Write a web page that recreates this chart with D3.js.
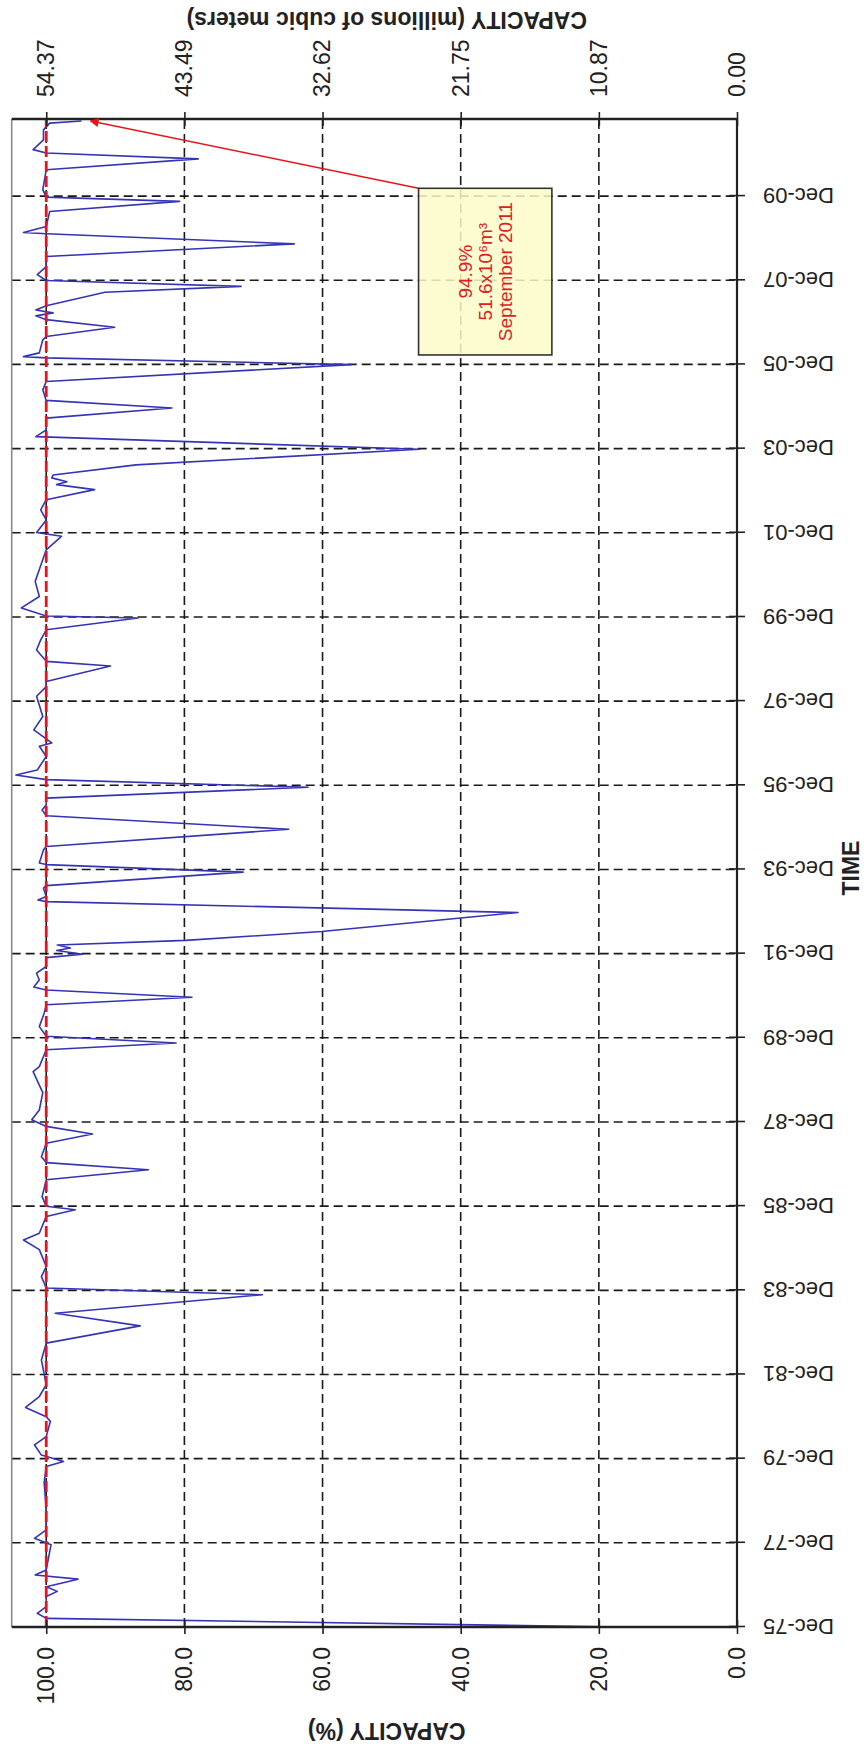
<!DOCTYPE html>
<html>
<head>
<meta charset="utf-8">
<script src="https://cdn.jsdelivr.net/npm/d3@7"></script>
<style>
  html, body { margin: 0; padding: 0; background: #fff; }
  svg { display: block; }
  text { font-family: Arial, "Liberation Sans", sans-serif; }
</style>
</head>
<body>
<svg id="chart" width="865" height="1750"></svg>
<script>
// ---------------- DATA ----------------
// decimal years (time) and reservoir capacity (%)
const years = [
  1975.92, 1976.12, 1976.24, 1976.40, 1976.64, 1976.76, 1976.87, 1977.05, 1977.15, 1977.27,
  1977.87, 1978.02, 1978.22, 1978.70, 1979.34, 1979.73, 1979.85, 1980.00, 1980.24, 1980.44,
  1980.80, 1980.91, 1981.13, 1981.39, 1981.67, 1982.26, 1982.66, 1983.07, 1983.37, 1983.81,
  1983.97, 1984.24, 1984.48, 1984.88, 1985.11, 1985.27, 1985.67, 1985.83, 1985.91, 1986.14,
  1986.54, 1986.78, 1986.95, 1987.09, 1987.41, 1987.63, 1987.81, 1987.97, 1988.20, 1988.61,
  1989.11, 1989.23, 1989.63, 1989.79, 1989.95, 1990.18, 1990.50, 1990.70, 1990.88, 1991.05,
  1991.12, 1991.29, 1991.45, 1991.61, 1991.82, 1991.90, 1991.99, 1992.05, 1992.12, 1992.23,
  1992.44, 1992.76, 1992.89, 1993.15, 1993.19, 1993.27, 1993.47, 1993.53, 1993.85, 1994.03,
  1994.07, 1994.38, 1994.46, 1994.87, 1995.19, 1995.33, 1995.45, 1995.61, 1995.87, 1996.05,
  1996.16, 1996.28, 1996.60, 1996.84, 1996.92, 1997.23, 1997.55, 1998.03, 1998.26, 1998.38,
  1998.75, 1998.86, 1999.13, 1999.37, 1999.61, 1999.89, 1999.94, 2000.13, 2000.40, 2000.76,
  2001.04, 2001.51, 2001.83, 2001.92, 2002.22, 2002.46, 2002.70, 2002.94, 2003.06, 2003.13,
  2003.22, 2003.29, 2003.53, 2003.90, 2004.20, 2004.36, 2004.64, 2004.88, 2005.06, 2005.31,
  2005.51, 2005.91, 2006.07, 2006.10, 2006.19, 2006.50, 2006.58, 2006.80, 2006.98, 2007.07,
  2007.14, 2007.21, 2007.31, 2007.63, 2007.77, 2007.91, 2008.05, 2008.24, 2008.48, 2008.78,
  2009.02, 2009.05, 2009.19, 2009.55, 2009.79, 2009.89, 2010.07, 2010.54, 2010.80, 2010.94,
  2011.02, 2011.25, 2011.49, 2011.65, 2011.70
];
const capacity = [
  19.5, 100, 101.3, 100, 100, 98.4, 100, 95.4, 101.6, 100,
  99.3, 101.7, 100, 100, 100.3, 100, 97.5, 100.7, 101.7, 100,
  99.4, 100, 103.0, 101, 100, 100.7, 100, 86.4, 98.7, 68.7,
  100, 100.7, 100, 101, 103.3, 101, 100, 95.8, 100, 100.6,
  100, 85.2, 100, 100.7, 100, 93.3, 100, 102.1, 101, 100.5,
  101.9, 101, 100, 81.2, 100, 101, 100.3, 100, 78.9, 100,
  101.8, 101, 101.4, 100, 100, 94.7, 98.5, 96.5, 98.4, 79.8,
  60.1, 40.0, 31.7, 100, 101.2, 100, 100.4, 100, 71.5, 100,
  101, 100.4, 100, 64.9, 100, 100.6, 100, 100, 62.1, 100,
  104.4, 101.3, 100, 101, 99.2, 101.8, 100.5, 101.4, 100, 100,
  90.7, 100, 101.4, 100.8, 100, 86.7, 100, 103.6, 101, 101.6,
  101, 100, 97.8, 101.4, 100, 100.8, 100, 93.0, 98.5, 97,
  99.2, 99, 87, 46.0, 101.5, 100, 100, 81.8, 100, 100.5,
  100, 55.8, 100, 103.3, 101, 100.5, 100, 90.1, 100, 101.5,
  99, 101.5, 100, 91.5, 71.8, 100, 101.3, 100, 100, 64.1,
  100, 103.3, 100, 99.5, 80.7, 100, 100.5, 100, 78.0, 100,
  101.9, 100.4, 100.4, 99.5, 94.9
];

// axis ticks
const capTicks = [0, 20, 40, 60, 80, 100];
const capTickLabels = ["0.0", "20.0", "40.0", "60.0", "80.0", "100.0"];
const volTickLabels = ["0.00", "10.87", "21.75", "32.62", "43.49", "54.37"];
const fullVolume = 54.37;           // millions m3 at 100 %
const timeTickYears = [1975, 1977, 1979, 1981, 1983, 1985, 1987, 1989, 1991, 1993,
                       1995, 1997, 1999, 2001, 2003, 2005, 2007, 2009];
const timeTickLabels = ["Dec-75", "Dec-77", "Dec-79", "Dec-81", "Dec-83", "Dec-85", "Dec-87",
                        "Dec-89", "Dec-91", "Dec-93", "Dec-95", "Dec-97", "Dec-99", "Dec-01",
                        "Dec-03", "Dec-05", "Dec-07", "Dec-09"];

// annotation
const annLines = ["94.9%", "51.6x10\u2076m\u00B3", "September 2011"];
const annBox = { t0: 2006.14, t1: 2010.10, v0: 26.8, v1: 46.1 };
const annTarget = { t: 2011.70, v: 94.9 };

// ---------------- CHART ----------------
function toDate(y) {
  const yr = Math.floor(y);
  const s = new Date(yr, 0, 1).getTime(), e = new Date(yr + 1, 0, 1).getTime();
  return new Date(s + (y - yr) * (e - s));
}

const W = 1508, H = 725.3;   // plot size in the un-rotated frame
const svg = d3.select("#chart");
svg.append("rect").attr("width", 865).attr("height", 1750).attr("fill", "#fff");

// whole chart drawn in normal orientation, then rotated 90° counter-clockwise
const g = svg.append("g").attr("transform", "translate(11.7,1627) rotate(-90)");

const x = d3.scaleTime().domain([new Date(1975, 11, 1), new Date(2011, 9, 1)]).range([0, W]);
const y = d3.scaleLinear().domain([0, 105]).range([H, 0]);
const yVol = d3.scaleLinear().domain([0, 105 * fullVolume / 100]).range([H, 0]);

const timeTicks = timeTickYears.map(yr => new Date(yr, 11, 1));
const dash = "9,5";

// gridlines
g.append("g").selectAll("line").data(capTicks.filter(v => v > 0)).join("line")
  .attr("x1", 0).attr("x2", W).attr("y1", d => y(d)).attr("y2", d => y(d))
  .attr("stroke", "#1a1a1a").attr("stroke-width", 1.6).attr("stroke-dasharray", dash);
g.append("g").selectAll("line").data(timeTicks.slice(1)).join("line")
  .attr("x1", d => x(d)).attr("x2", d => x(d)).attr("y1", 0).attr("y2", H)
  .attr("stroke", "#1a1a1a").attr("stroke-width", 1.6).attr("stroke-dasharray", dash);

// data line
const series = years.map((t, i) => ({ date: toDate(t), v: capacity[i] }));
g.append("path").datum(series)
  .attr("fill", "none").attr("stroke", "#3434b4").attr("stroke-width", 1.6)
  .attr("stroke-linejoin", "round")
  .attr("d", d3.line().x(d => x(d.date)).y(d => y(d.v)));

// red 100 % line
g.append("line").attr("x1", 0).attr("x2", W).attr("y1", y(100)).attr("y2", y(100))
  .attr("stroke", "#e8141c").attr("stroke-width", 2.8).attr("stroke-dasharray", "11,4");

// frame
g.append("line").attr("x1", 0).attr("x2", W).attr("y1", 0).attr("y2", 0)
  .attr("stroke", "#8a8a8a").attr("stroke-width", 1.6);
g.append("line").attr("x1", 0).attr("x2", W).attr("y1", H).attr("y2", H)
  .attr("stroke", "#222").attr("stroke-width", 2.2);
g.append("line").attr("x1", 0).attr("x2", 0).attr("y1", 0).attr("y2", H)
  .attr("stroke", "#222").attr("stroke-width", 2.6);
g.append("line").attr("x1", W).attr("x2", W).attr("y1", 0).attr("y2", H)
  .attr("stroke", "#222").attr("stroke-width", 2.6);

// left axis (%)
const axL = g.append("g")
  .call(d3.axisLeft(y).tickValues(capTicks).tickFormat((d, i) => capTickLabels[i])
    .tickSizeInner(7).tickSizeOuter(0).tickPadding(13));
axL.select(".domain").remove();
axL.selectAll(".tick line").attr("x1", 7).attr("x2", -7).attr("stroke", "#222").attr("stroke-width", 1.6);
axL.selectAll(".tick text").attr("font-size", 23).attr("fill", "#222");

// right axis (millions m3)
const volTicks = capTicks.map(v => v * fullVolume / 100);
const axR = g.append("g").attr("transform", `translate(${W},0)`)
  .call(d3.axisRight(yVol).tickValues(volTicks).tickFormat((d, i) => volTickLabels[i])
    .tickSizeInner(7).tickSizeOuter(0).tickPadding(15));
axR.select(".domain").remove();
axR.selectAll(".tick line").attr("x1", -7).attr("x2", 7).attr("stroke", "#222").attr("stroke-width", 1.6);
axR.selectAll(".tick text").attr("font-size", 23).attr("fill", "#222");

// bottom axis (time)
const axB = g.append("g").attr("transform", `translate(0,${H})`)
  .call(d3.axisBottom(x).tickValues(timeTicks).tickFormat((d, i) => timeTickLabels[i])
    .tickSizeInner(8).tickSizeOuter(0));
axB.select(".domain").remove();
axB.selectAll(".tick line").attr("y1", -8).attr("y2", 8).attr("stroke", "#222").attr("stroke-width", 1.6);
axB.selectAll(".tick text")
  .attr("transform", "rotate(-90)").attr("text-anchor", "end")
  .attr("x", -26).attr("y", 0).attr("dy", "0.35em")
  .attr("font-size", 22).attr("fill", "#222");

// axis titles
g.append("text").attr("transform", `translate(-104,375) rotate(-90)`)
  .attr("text-anchor", "middle").attr("dominant-baseline", "central")
  .attr("font-size", 23).attr("font-weight", "bold").attr("fill", "#222")
  .text("CAPACITY (%)");
g.append("text").attr("transform", `translate(${W + 99},375) rotate(-90)`)
  .attr("text-anchor", "middle").attr("dominant-baseline", "central")
  .attr("font-size", 23).attr("font-weight", "bold").attr("fill", "#222")
  .text("CAPACITY (millions of cubic meters)");
g.append("text").attr("x", W / 2 + 5).attr("y", H + 114)
  .attr("text-anchor", "middle").attr("dominant-baseline", "central")
  .attr("font-size", 23).attr("font-weight", "bold").attr("fill", "#222")
  .text("TIME");

// annotation arrow
const bx0 = x(toDate(annBox.t0)), bx1 = x(toDate(annBox.t1));
const by0 = y(annBox.v1), by1 = y(annBox.v0);
svg.append("defs").append("marker").attr("id", "ah")
  .attr("viewBox", "0 0 10 10").attr("refX", 9).attr("refY", 5)
  .attr("markerWidth", 9).attr("markerHeight", 9).attr("markerUnits", "userSpaceOnUse")
  .attr("orient", "auto")
  .append("path").attr("d", "M0,0 L10,5 L0,10 z").attr("fill", "#e8141c");
g.append("line")
  .attr("x1", bx1).attr("y1", by0)
  .attr("x2", x(toDate(annTarget.t))).attr("y2", y(annTarget.v) + 9)
  .attr("stroke", "#e8141c").attr("stroke-width", 1.4).attr("marker-end", "url(#ah)");

// annotation box
g.append("rect").attr("x", bx0).attr("y", by0).attr("width", bx1 - bx0).attr("height", by1 - by0)
  .attr("fill", "#fdfcc8").attr("fill-opacity", 0.85)
  .attr("stroke", "#333").attr("stroke-width", 1.6);
const cx = (bx0 + bx1) / 2, cy = (by0 + by1) / 2;
g.append("g").selectAll("text").data(annLines).join("text")
  .attr("x", cx).attr("y", (d, i) => cy + (i - 1) * 20)
  .attr("text-anchor", "middle").attr("dominant-baseline", "central")
  .attr("font-size", 19).attr("fill", "#e0201e")
  .text(d => d);
</script>
</body>
</html>
